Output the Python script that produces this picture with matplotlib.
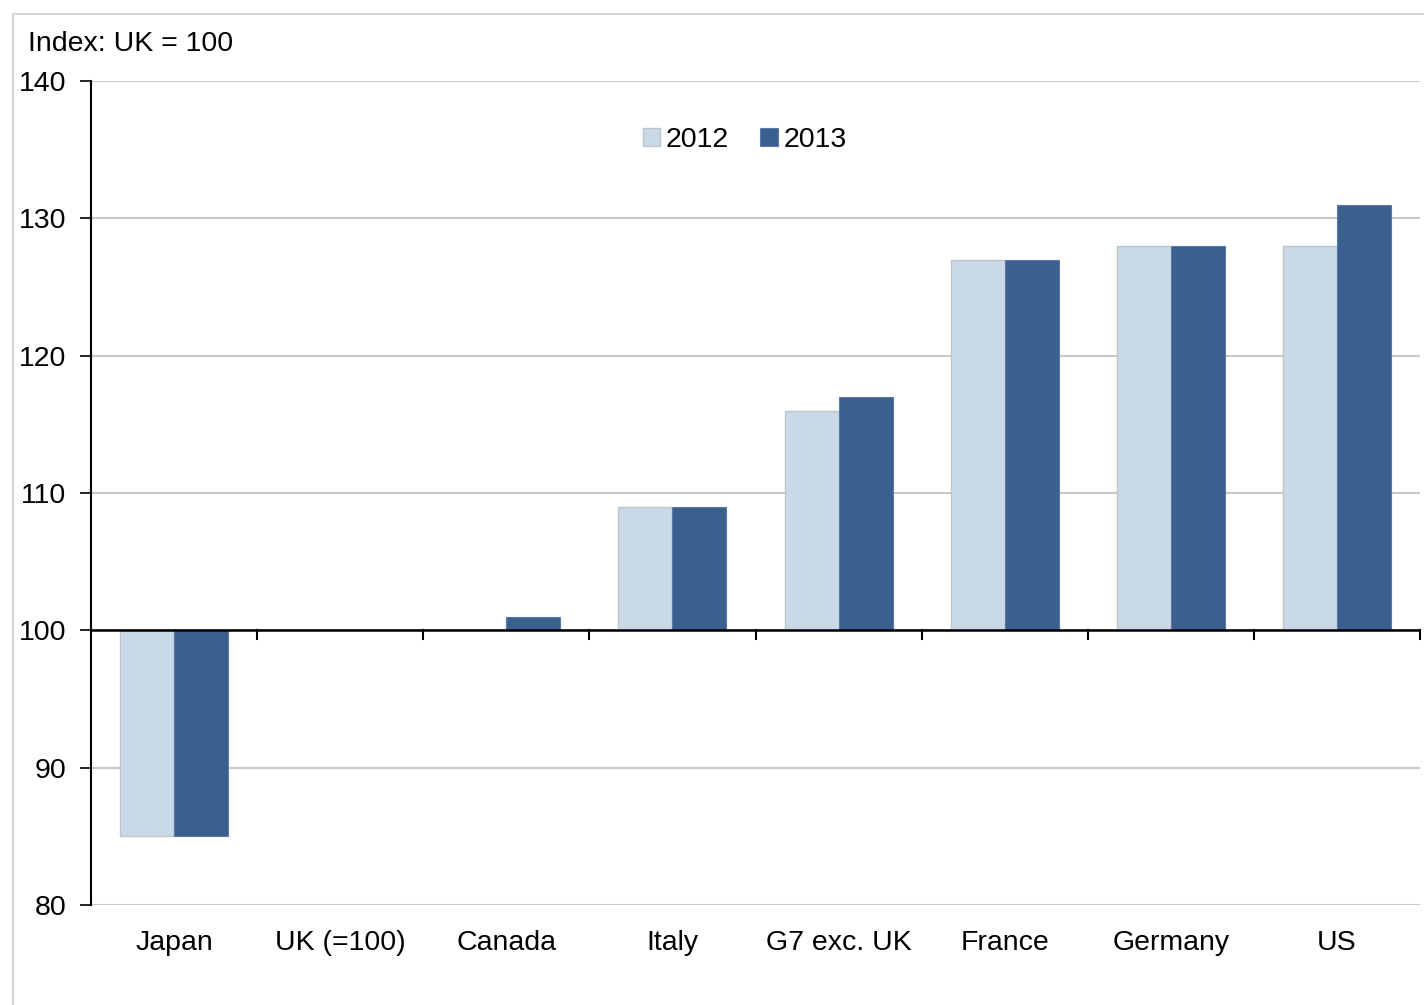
import matplotlib
matplotlib.use("Agg")
from matplotlib import pyplot as plt
from matplotlib.patches import Rectangle
import numpy as np

plt.rcParams['font.family'] = ['Liberation Sans', 'DejaVu Sans']

countries = ['Japan', 'UK (=100)', 'Canada', 'Italy', 'G7 exc. UK', 'France', 'Germany', 'US']
val_2012 = [85, 100, 100, 109, 116, 127, 128, 128]
val_2013 = [85, 100, 101, 109, 117, 127, 128, 131]
y_ticks = [80, 90, 100, 110, 120, 130, 140]

col_2012 = '#c9d9e8'
col_2013 = '#3b5f8f'
base = 100
fs = 20.5

fig = plt.figure(figsize=(14.24, 10.05), dpi=100)
ax = fig.add_axes([91/1424, 1 - 905/1005, 1329/1424, 824/1005])

# marco exterior gris
fig.patches.append(Rectangle((13/1424, -0.05), 1.1, 1 - 14/1005 + 0.05,
                             transform=fig.transFigure, fill=False,
                             edgecolor='#d4d4d4', lw=1.5))

x = np.arange(len(countries))
w = 0.325
h12 = [v - base for v in val_2012]
h13 = [v - base for v in val_2013]
ax.bar(x - w/2, h12, w, bottom=base, color=col_2012, edgecolor='#c0c4c8', lw=1, label='2012', zorder=2)
ax.bar(x + w/2, h13, w, bottom=base, color=col_2013, edgecolor='#5a7aa5', lw=0.8, label='2013', zorder=2)

ax.set_ylim(80, 140)
ax.set_xlim(-0.5, len(countries) - 0.5)
ax.set_yticks(y_ticks)
ax.set_yticklabels([str(t) for t in y_ticks], fontsize=fs)
ax.tick_params(axis='y', length=8, width=1.2, pad=10, color='black')
ax.grid(axis='y', color='#c8c8c8', lw=1.5, zorder=0)
ax.set_axisbelow(True)

for s in ['top', 'right', 'bottom']:
    ax.spines[s].set_visible(False)
ax.spines['left'].set_linewidth(1.5)

# eje horizontal en 100 con marcas entre categorias
ax.axhline(base, color='black', lw=1.8, zorder=3)
for b in np.arange(0.5, len(countries), 1.0):
    ax.plot([b, b], [base, base - 0.6], color='black', lw=1.5, zorder=3, clip_on=False)

ax.set_xticks(x)
ax.set_xticklabels(countries, fontsize=fs)
ax.tick_params(axis='x', length=0, pad=18)

fig.text(28/1424, 1 - 44/1005, 'Index: UK = 100', fontsize=fs, va='center', ha='left')

ax.legend(loc='upper center', bbox_to_anchor=(0.492, 0.975), ncol=2, frameon=False,
          fontsize=fs, handlelength=0.6, handleheight=0.6, handletextpad=0.2,
          columnspacing=1.1)

plt.savefig('out.png', dpi=100)
